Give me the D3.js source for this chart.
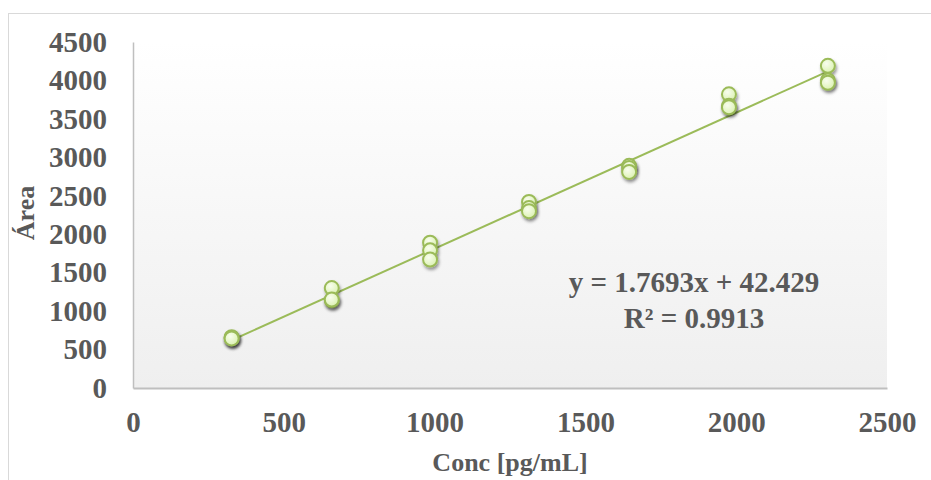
<!DOCTYPE html>
<html>
<head>
<meta charset="utf-8">
<script src="https://cdn.jsdelivr.net/npm/d3@7"></script>
<style>
  html, body { margin: 0; padding: 0; background: #ffffff; }
  svg { display: block; }
  text { font-family: "Liberation Serif", "Times New Roman", serif; font-weight: bold; fill: #595959; }
</style>
</head>
<body>
<svg id="chart" width="931" height="480"></svg>
<script>
// Calibration data: concentration levels and replicate peak areas
const concentrations = [327, 659, 985, 1313, 1645, 1976, 2304];
const areaRep1 = [660, 1300, 1890, 2420, 2890, 3820, 4190];
const areaRep2 = [650, 1140, 1790, 2340, 2860, 3670, 4000];
const areaRep3 = [645, 1150, 1670, 2300, 2810, 3650, 3970];
const xTicks = [0, 500, 1000, 1500, 2000, 2500];
const yTicks = [0, 500, 1000, 1500, 2000, 2500, 3000, 3500, 4000, 4500];
const slope = 1.7693;
const intercept = 42.429;
const rSquared = 0.9913;

const points = [];
concentrations.forEach((c, i) => {
  [areaRep1, areaRep2, areaRep3].forEach(rep => points.push({ x: c, y: rep[i] }));
});

const svg = d3.select("#chart");
const plot = { left: 133, right: 887, top: 42, bottom: 388 };

const x = d3.scaleLinear().domain([0, 2500]).range([plot.left, plot.right]);
const y = d3.scaleLinear().domain([0, 4500]).range([plot.bottom, plot.top]);

const defs = svg.append("defs");
const bg = defs.append("linearGradient").attr("id", "plotBg")
  .attr("x1", 0).attr("y1", 0).attr("x2", 0).attr("y2", 1);
bg.append("stop").attr("offset", "0%").attr("stop-color", "#ffffff");
bg.append("stop").attr("offset", "100%").attr("stop-color", "#efefef");

const mk = defs.append("radialGradient").attr("id", "markerFill")
  .attr("cx", "40%").attr("cy", "35%").attr("r", "65%");
mk.append("stop").attr("offset", "0%").attr("stop-color", "#f8fdee");
mk.append("stop").attr("offset", "100%").attr("stop-color", "#dcf2b2");

const shadow = defs.append("filter").attr("id", "shadow")
  .attr("x", "-50%").attr("y", "-50%").attr("width", "200%").attr("height", "200%");
shadow.append("feDropShadow").attr("dx", 1.2).attr("dy", 2.5)
  .attr("stdDeviation", 1.6).attr("flood-color", "#000").attr("flood-opacity", 0.4);

// chart frame
svg.append("rect").attr("x", 8.5).attr("y", 13.5).attr("width", 940).attr("height", 500)
  .attr("fill", "none").attr("stroke", "#d9d9d9").attr("stroke-width", 1);

// plot area background
svg.append("rect").attr("x", plot.left).attr("y", plot.top)
  .attr("width", plot.right - plot.left).attr("height", plot.bottom - plot.top)
  .attr("fill", "url(#plotBg)");

// axes
const yAxis = d3.axisLeft(y).tickValues(yTicks).tickSize(0).tickPadding(26).tickFormat(d3.format("d"));
const gy = svg.append("g").attr("transform", `translate(${plot.left},0)`).call(yAxis);
gy.select(".domain").attr("stroke", "#bfbfbf").attr("stroke-width", 1.5);
gy.selectAll("text").style("font-size", "29px").attr("fill", "#595959")
  .attr("font-family", null);

const xAxis = d3.axisBottom(x).tickValues(xTicks).tickSize(0).tickPadding(23).tickFormat(d3.format("d"));
const gx = svg.append("g").attr("transform", `translate(0,${plot.bottom})`).call(xAxis);
gx.select(".domain").attr("stroke", "#bfbfbf").attr("stroke-width", 2);
gx.selectAll("text").style("font-size", "29px").attr("fill", "#595959")
  .attr("font-family", null);

// linear trendline over the data range
const xMin = d3.min(concentrations), xMax = d3.max(concentrations);
svg.append("line")
  .attr("x1", x(xMin)).attr("y1", y(slope * xMin + intercept))
  .attr("x2", x(xMax)).attr("y2", y(slope * xMax + intercept))
  .attr("stroke", "#9bbb59").attr("stroke-width", 2);

// replicate markers
svg.append("g").selectAll("circle").data(points).join("circle")
  .attr("cx", d => x(d.x)).attr("cy", d => y(d.y)).attr("r", 7)
  .attr("fill", "url(#markerFill)").attr("stroke", "#9bbb59").attr("stroke-width", 2)
  .attr("filter", "url(#shadow)");

// regression label
svg.append("text").attr("x", 694).attr("y", 292).attr("text-anchor", "middle")
  .style("font-size", "29px")
  .text(`y = ${slope}x + ${intercept}`);
svg.append("text").attr("x", 694).attr("y", 328).attr("text-anchor", "middle")
  .style("font-size", "29px")
  .text(`R² = ${rSquared}`);

// axis titles
svg.append("text").attr("x", 510).attr("y", 471).attr("text-anchor", "middle")
  .style("font-size", "26px").text("Conc [pg/mL]");
svg.append("text").attr("transform", "translate(34,213) rotate(-90)")
  .attr("text-anchor", "middle").style("font-size", "26px").text("Área");
</script>
</body>
</html>
